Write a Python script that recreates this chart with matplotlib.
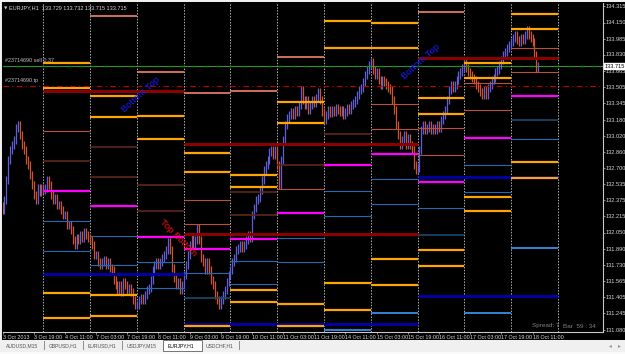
import matplotlib
matplotlib.use('Agg')
import matplotlib.pyplot as plt
from matplotlib.patches import Rectangle
from matplotlib.transforms import blended_transform_factory
from matplotlib import font_manager

plt.rcParams['font.family'] = ['Liberation Sans', 'DejaVu Sans']
_names = {f.name for f in font_manager.fontManager.ttflist}
NARROW = ['Liberation Sans Narrow', 'DejaVu Sans'] if 'Liberation Sans Narrow' in _names else ['Liberation Sans', 'DejaVu Sans']

# ---------------- data ----------------
first_hour = 3          # first bar: 3 Oct 2013 03:00 (hours, weekends removed)
first_open = 132.32
close_3oct = [132.275, 132.375, 132.575, 132.775, 132.875, 132.925, 132.975, 133.095, 133.125, 133.025,
              132.925, 132.875, 132.775, 132.725, 132.625, 132.525, 132.425, 132.375, 132.495, 132.455, 132.495]
close_4oct = [132.475, 132.495, 132.575, 132.525, 132.425, 132.375, 132.395, 132.325, 132.325, 132.275, 132.225, 132.225,
              132.125, 132.125, 132.075, 131.975, 131.925, 131.995, 131.975, 132.025, 131.995, 132.055, 132.025, 131.995]
close_7oct = [131.975, 131.925, 131.825, 131.825, 131.755, 131.725, 131.755, 131.775, 131.725, 131.755, 131.695, 131.675,
              131.575, 131.525, 131.475, 131.525, 131.455, 131.555, 131.525, 131.475, 131.495, 131.455, 131.375, 131.325]
close_8oct = [131.325, 131.375, 131.395, 131.375, 131.425, 131.475, 131.495, 131.575, 131.675, 131.725, 131.755, 131.725,
              131.755, 131.795, 131.825, 131.875, 131.955, 131.875, 131.695, 131.595, 131.525, 131.555, 131.475, 131.525]
close_9oct = [131.625, 131.725, 131.825, 131.925, 131.995, 131.925, 131.975, 132.095, 131.975, 131.795, 131.755, 131.675,
              131.755, 131.675, 131.575, 131.525, 131.425, 131.375, 131.325, 131.375, 131.425, 131.475, 131.555, 131.625]
close_10oct = [131.675, 131.755, 131.795, 131.875, 131.895, 131.925, 131.895, 131.925, 131.975, 132.025, 131.995, 132.225,
               132.295, 132.375, 132.395, 132.475, 132.575, 132.675, 132.725, 132.775, 132.855, 132.875, 132.825, 132.875]
close_11oct = [132.725, 132.525, 132.775, 132.975, 133.125, 133.195, 133.225, 133.255, 133.225, 133.275, 133.255, 133.325,
               133.475, 133.375, 133.325, 133.375, 133.275, 133.325, 133.375, 133.345, 133.395, 133.455, 133.375, 133.255]
close_14oct = [133.175, 133.225, 133.275, 133.245, 133.275, 133.255, 133.295, 133.275, 133.255, 133.275, 133.225, 133.255,
               133.295, 133.275, 133.325, 133.345, 133.375, 133.425, 133.475, 133.495, 133.555, 133.625, 133.675, 133.725]
close_15oct = [133.755, 133.675, 133.625, 133.655, 133.575, 133.525, 133.575, 133.555, 133.525, 133.495, 133.475, 133.375,
               133.275, 133.125, 133.025, 132.925, 132.975, 133.025, 132.925, 132.995, 132.925, 132.875, 132.725, 132.675]
close_16oct = [132.695, 132.875, 133.075, 133.125, 133.075, 133.095, 133.125, 133.075, 133.095, 133.075, 133.125, 133.095,
               133.175, 133.225, 133.275, 133.375, 133.475, 133.525, 133.495, 133.525, 133.575, 133.625, 133.655, 133.695]
close_17oct = [133.755, 133.695, 133.655, 133.625, 133.595, 133.575, 133.525, 133.495, 133.455, 133.425, 133.475, 133.425,
               133.495, 133.525, 133.575, 133.595, 133.655, 133.675, 133.725, 133.775, 133.825, 133.855, 133.895, 133.925]
close_18oct = [133.955, 133.995, 134.025, 133.975, 133.955, 133.995, 133.975, 134.025, 134.075, 134.025, 133.995, 133.955,
               133.825, 133.695, 133.715]

day_starts = [24, 48, 72, 96, 120, 144, 168, 192, 216, 240, 264, 288]   # day separators (hours)

x_tick_hours = [3, 19, 35, 51, 67, 83, 99, 115, 131, 147, 163, 179, 195, 211, 227, 243, 259, 275]
x_tick_labels = ['3 Oct 2013', '3 Oct 19:00', '4 Oct 11:00', '7 Oct 03:00', '7 Oct 19:00', '8 Oct 11:00',
                 '9 Oct 03:00', '9 Oct 19:00', '10 Oct 11:00', '11 Oct 03:00', '11 Oct 19:00', '14 Oct 11:00',
                 '15 Oct 03:00', '15 Oct 19:00', '16 Oct 11:00', '17 Oct 03:00', '17 Oct 19:00', '18 Oct 11:00']
y_ticks = [134.315, 134.150, 133.985, 133.830, 133.665, 133.505, 133.345, 133.180, 133.020, 132.860, 132.700,
           132.535, 132.375, 132.215, 132.050, 131.890, 131.730, 131.565, 131.405, 131.245, 131.080]

# daily levels: (day index, price); day 0 = 4 Oct
orange_levels = [(0, 133.745), (0, 133.495), (0, 131.445), (0, 131.195),
                 (1, 133.415), (1, 133.205), (1, 131.425), (1, 131.215),
                 (2, 133.215), (2, 132.985),
                 (3, 132.845), (3, 132.655), (3, 131.115),
                 (4, 132.625), (4, 132.505), (4, 131.475), (4, 131.355),
                 (5, 133.355), (5, 133.145), (5, 131.335), (5, 131.115),
                 (6, 134.165), (6, 133.895), (6, 131.545), (6, 131.275),
                 (7, 134.145), (7, 133.895), (7, 131.785), (7, 131.525),
                 (8, 133.395), (8, 133.235), (8, 131.875), (8, 131.715),
                 (9, 133.745), (9, 133.595), (9, 132.405), (9, 132.265),
                 (10, 134.235), (10, 134.085), (10, 132.755), (10, 132.595)]
salmon_levels = [(1, 134.215), (2, 133.655), (3, 133.445), (4, 133.465), (5, 133.805), (8, 134.255)]
sienna_levels = [(0, 133.065), (3, 132.375), (3, 132.135), (5, 132.485), (7, 133.335), (7, 133.085),
                 (8, 133.095), (8, 132.825), (9, 133.545), (9, 133.275), (10, 133.895), (10, 133.655)]
brown_levels = [(0, 132.765), (1, 132.905), (1, 132.605), (2, 132.525), (2, 132.265),
                (4, 132.455), (4, 132.225), (5, 132.725), (6, 133.035)]
magenta_levels = [(0, 132.465), (1, 132.315), (2, 132.005), (3, 131.885), (4, 131.985), (5, 132.245),
                  (6, 132.725), (7, 132.835), (8, 132.555), (9, 132.995), (10, 133.415)]
steel_levels = [(0, 132.165), (0, 131.865), (1, 132.015), (1, 131.725), (2, 131.755), (2, 131.495),
                (3, 131.645), (4, 131.765), (4, 131.535), (5, 131.995), (5, 131.755), (6, 132.465), (6, 132.215),
                (7, 132.585), (7, 132.335), (8, 132.295), (9, 132.725), (9, 132.455), (10, 132.985)]
teal_levels = [(3, 131.395), (8, 132.025), (10, 133.175)]
lightblue_levels = [(6, 131.075), (7, 131.245), (9, 131.245), (10, 131.895)]
# multi-day levels: (first day, last day, price)
darkred_spans = [(0, 2, 133.465), (3, 7, 132.935), (3, 7, 132.035), (8, 10, 133.795)]
darkblue_spans = [(0, 2, 131.635), (3, 7, 131.135), (8, 10, 132.605), (8, 10, 131.415)]

order_price = 133.715
tp_price = 133.52
bid_price = 133.715

# ---------------- figure ----------------
W, H = 625, 354
fig = plt.figure(figsize=(W / 100, H / 100), dpi=100)
fig.patch.set_facecolor('#f0f0f0')
fig.add_artist(Rectangle((2 / W, 1 - 340 / H), (W - 2) / W, 338 / H, transform=fig.transFigure,
                         facecolor='black', edgecolor='none', zorder=0))
fig.add_artist(Rectangle((1 / W, 1 - 340 / H), 1.2 / W, 338 / H, transform=fig.transFigure,
                         facecolor='#e8e8e8', edgecolor='none', zorder=0))

def px_h(x):
    return (x + 3.8) / 1.95

def px_p(y):
    return 134.375 - 0.01 * y

ax = fig.add_axes([2.5 / W, 1 - 332 / H, 600.5 / W, 329 / H])
ax.set_facecolor('black')
ax.set_xlim(px_h(2.5), px_h(603))
ax.set_ylim(px_p(332), px_p(3))
for s in ['left', 'top']:
    ax.spines[s].set_visible(False)
for s in ['right', 'bottom']:
    ax.spines[s].set_color('#c8c8c8')
    ax.spines[s].set_linewidth(0.8)

txtc = '#d8d8d8'
ax.yaxis.tick_right()
ax.set_yticks(y_ticks)
ax.set_yticklabels(['%.3f' % v for v in y_ticks], family=NARROW)
ax.tick_params(axis='y', colors='#c8c8c8', labelcolor=txtc, labelsize=4.1, length=1.5, width=0.5, pad=0.6)
ax.set_xticks(x_tick_hours)
ax.set_xticklabels(x_tick_labels, family=NARROW)
ax.tick_params(axis='x', colors='#c8c8c8', labelcolor=txtc, labelsize=3.9, length=1.5, width=0.5, pad=0.8)
for lab in ax.get_xticklabels():
    lab.set_ha('left')

# day separators
for d in day_starts:
    ax.axvline(d, color='#b0b0b0', lw=0.7, ls=(0, (1.5, 1.5)), zorder=1)

# candles
closes = (close_3oct + close_4oct + close_7oct + close_8oct + close_9oct + close_10oct + close_11oct +
          close_14oct + close_15oct + close_16oct + close_17oct + close_18oct)
opens = [first_open] + closes[:-1]
hours = list(range(first_hour, first_hour + len(closes)))
wick = 0.04
lo = [min(o, c) - wick for o, c in zip(opens, closes)]
hi = [max(o, c) + wick for o, c in zip(opens, closes)]
cols = ['#5f5fd8' if c >= o else '#cf5530' for o, c in zip(opens, closes)]
ax.vlines(hours, lo, hi, colors=cols, lw=0.9, zorder=2)

# levels
def draw_levels(levels, color, lw):
    for d, p in levels:
        ax.hlines(p, day_starts[d], day_starts[d + 1], colors=color, lw=lw, zorder=3)

def draw_spans(spans, color, lw):
    for d0, d1, p in spans:
        ax.hlines(p, day_starts[d0], day_starts[d1 + 1], colors=color, lw=lw, zorder=3)

draw_levels(brown_levels, '#5e2618', 1.2)
draw_levels(sienna_levels, '#bb5038', 0.8)
draw_levels(steel_levels, '#1f6cb4', 0.8)
draw_levels(teal_levels, '#1c4a6e', 1.2)
draw_levels(lightblue_levels, '#3a9cff', 1.2)
draw_spans(darkred_spans, '#8b0000', 2.2)
draw_spans(darkblue_spans, '#0000a0', 2.2)
draw_levels(salmon_levels, '#f4826c', 1.2)
draw_levels(magenta_levels, '#ff00ff', 1.6)
draw_levels(orange_levels, '#ffa500', 1.6)

# order lines
ax.axhline(bid_price, color='#8a8a8a', lw=0.6, zorder=4)
ax.axhline(order_price, color='#00a000', lw=0.9, ls=(0, (5, 2, 1, 2)), zorder=4)
ax.axhline(tp_price, color='#c00000', lw=0.8, ls=(0, (5, 3, 1, 3)), zorder=4)
ax.text(px_h(5), order_price + 0.025, '#23714690 sell 0.37', color='#c0c0c0', fontsize=3.9, family=NARROW,
        va='bottom', ha='left', zorder=5)
ax.text(px_h(5), tp_price + 0.025, '#23714690 tp', color='#c0c0c0', fontsize=3.9, family=NARROW,
        va='bottom', ha='left', zorder=5)

# pattern labels
ax.text(px_h(140), px_p(95), 'Bottom Top', color='#1a1aff', fontsize=6.8, rotation=42,
        ha='center', va='center', zorder=5)
ax.text(px_h(178), px_p(238), 'Top Bottom', color='#ff1010', fontsize=6.8, rotation=-45,
        ha='center', va='center', zorder=5)
ax.text(px_h(421), px_p(62), 'Bottom Top', color='#1a1aff', fontsize=6.8, rotation=42,
        ha='center', va='center', zorder=5)

# current price box
tr = blended_transform_factory(ax.transAxes, ax.transData)
ax.text(1.003, bid_price, '%.3f' % bid_price, transform=tr, fontsize=4.1, family=NARROW, color='black',
        ha='left', va='center', bbox=dict(boxstyle='square,pad=0.12', fc='white', ec='white'), zorder=6, clip_on=False)

# header and status
def ftext(x, y, s, **kw):
    fig.text(x / W, 1 - y / H, s, **kw)

ftext(3.5, 8, '\u25bc', color='#d0d0d0', fontsize=3.2, va='center', ha='left', family=['DejaVu Sans'])
ftext(9, 8, 'EURJPY,H1  133.729 133.732 133.715 133.715', color='#d8d8d8', fontsize=4.0, va='center',
      ha='left', family=NARROW)
ftext(532, 326, 'Spread: 7', color='#808080', fontsize=4.6, va='center', ha='left', family=NARROW)
ftext(563, 326, 'Bar  59 : 34', color='#808080', fontsize=4.6, va='center', ha='left', family=NARROW)

# tab bar
fig.add_artist(Rectangle((0, 1 - 354 / H), 1, 14 / H, transform=fig.transFigure,
                         facecolor='#f0f0f0', edgecolor='none', zorder=1))
fig.add_artist(Rectangle((0, 1 - 354 / H), 1, 2.5 / H, transform=fig.transFigure,
                         facecolor='#fafafa', edgecolor='none', zorder=1))
fig.add_artist(Rectangle((163 / W, 1 - 351 / H), 39 / W, 11 / H, transform=fig.transFigure,
                         facecolor='white', edgecolor='#606060', lw=0.6, zorder=2))
tabs = [(6, 'AUDUSD,M15'), (49, 'GBPUSD,H1'), (88, 'EURUSD,H1'), (127, 'USDJPY,M15'), (168, 'EURJPY,H1'), (206, 'USDCHF,H1')]
for x, t in tabs:
    ftext(x, 345.5, t, color='black' if t == 'EURJPY,H1' else '#505050', fontsize=3.6, va='center', ha='left',
          zorder=3, family=NARROW)
for x in [44, 83, 122, 239]:
    fig.add_artist(Rectangle((x / W, 1 - 350 / H), 0.6 / W, 9 / H, transform=fig.transFigure,
                             facecolor='#909090', edgecolor='none', zorder=3))
ftext(610, 345.5, '\u25c2', color='#909090', fontsize=4, va='center', ha='center', zorder=3, family=['DejaVu Sans'])
ftext(619, 345.5, '\u25b8', color='#909090', fontsize=4, va='center', ha='center', zorder=3, family=['DejaVu Sans'])

fig.savefig('out.png', dpi=100, facecolor=fig.get_facecolor())
